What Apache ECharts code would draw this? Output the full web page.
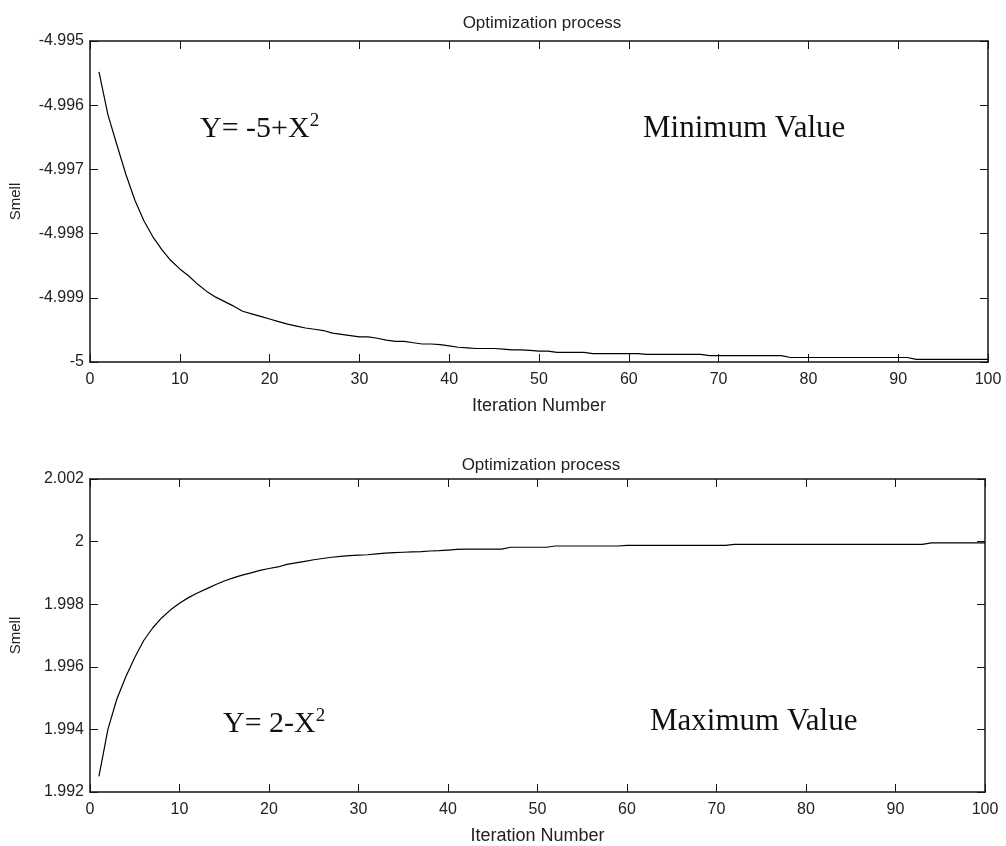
<!DOCTYPE html>
<html>
<head>
<meta charset="utf-8">
<script src="https://cdn.jsdelivr.net/npm/echarts@6/dist/echarts.min.js"></script>
<style>
  html, body { margin: 0; padding: 0; background: #fff; }
  #chart { width: 1006px; height: 846px; }
</style>
</head>
<body>
<div id="chart"></div>
<script>
// ---- data ----
const minSmell = [
  -4.99548, -4.99615, -4.99662, -4.99708, -4.99748, -4.99780, -4.99805, -4.99825, -4.99842, -4.99855,
  -4.99866, -4.99879, -4.99890, -4.99899, -4.99906, -4.99913, -4.99921, -4.99925, -4.99929, -4.99933,
  -4.99937, -4.99941, -4.99944, -4.99947, -4.99949, -4.99951, -4.99955, -4.99957, -4.99959, -4.99961,
  -4.99961, -4.99963, -4.99966, -4.99968, -4.99968, -4.99970, -4.99972, -4.99972, -4.99973, -4.99975,
  -4.99977, -4.99978, -4.99979, -4.99979, -4.99979, -4.99980, -4.99981, -4.99981, -4.99982, -4.99983,
  -4.99983, -4.99985, -4.99985, -4.99985, -4.99985, -4.99987, -4.99987, -4.99987, -4.99987, -4.99987,
  -4.99987, -4.99988, -4.99988, -4.99988, -4.99988, -4.99988, -4.99988, -4.99988, -4.99990, -4.99990,
  -4.99990, -4.99990, -4.99990, -4.99990, -4.99990, -4.99990, -4.99990, -4.99993, -4.99993, -4.99993,
  -4.99993, -4.99993, -4.99993, -4.99993, -4.99993, -4.99993, -4.99993, -4.99993, -4.99993, -4.99993,
  -4.99993, -4.99996, -4.99996, -4.99996, -4.99996, -4.99996, -4.99996, -4.99996, -4.99996, -4.99996
];
const maxSmell = [
  1.99250, 1.99400, 1.99497, 1.99568, 1.99630, 1.99684, 1.99724, 1.99756, 1.99782, 1.99803,
  1.99821, 1.99836, 1.99849, 1.99862, 1.99874, 1.99884, 1.99893, 1.99900, 1.99908, 1.99914,
  1.99919, 1.99927, 1.99932, 1.99937, 1.99942, 1.99946, 1.99950, 1.99953, 1.99955, 1.99957,
  1.99958, 1.99961, 1.99963, 1.99965, 1.99966, 1.99967, 1.99968, 1.99970, 1.99971, 1.99973,
  1.99975, 1.99976, 1.99976, 1.99976, 1.99976, 1.99976, 1.99982, 1.99982, 1.99982, 1.99982,
  1.99982, 1.99986, 1.99986, 1.99986, 1.99986, 1.99986, 1.99986, 1.99986, 1.99986, 1.99988,
  1.99988, 1.99988, 1.99988, 1.99988, 1.99988, 1.99988, 1.99988, 1.99988, 1.99988, 1.99988,
  1.99988, 1.99991, 1.99991, 1.99991, 1.99991, 1.99991, 1.99991, 1.99991, 1.99991, 1.99991,
  1.99991, 1.99991, 1.99991, 1.99991, 1.99991, 1.99991, 1.99991, 1.99991, 1.99991, 1.99991,
  1.99991, 1.99991, 1.99991, 1.99996, 1.99996, 1.99996, 1.99996, 1.99996, 1.99996, 1.99996
];
const xTicks = { min: 0, max: 100, interval: 10 };
const topY = { min: -5, max: -4.995, interval: 0.001 };
const botY = { min: 1.992, max: 2.002, interval: 0.002 };
const titleText = 'Optimization process';
const xName = 'Iteration Number';
const yName = 'Smell';

// ---- build ----
const toPairs = arr => arr.map((v, i) => [i + 1, v]);
const AX = '#141414';
const TXT = '#222';
const sans = 'Liberation Sans, Arial, Helvetica, sans-serif';
const serif = 'Liberation Serif, Times New Roman, serif';
const fmtY = v => String(parseFloat(Number(v).toFixed(3)));

function xAxisMain(gridIndex) {
  return {
    type: 'value', gridIndex, position: 'bottom',
    min: xTicks.min, max: xTicks.max, interval: xTicks.interval,
    name: xName, nameLocation: 'middle', nameGap: 35,
    nameTextStyle: { fontFamily: sans, fontSize: 18, color: TXT },
    axisLine: { show: true, onZero: false, lineStyle: { color: AX, width: 1.5 } },
    axisTick: { show: true, inside: true, length: 8, lineStyle: { color: AX, width: 1 } },
    axisLabel: { show: true, fontFamily: sans, fontSize: 16, color: TXT, margin: 10 },
    splitLine: { show: false }
  };
}
function xAxisTop(gridIndex) {
  return {
    type: 'value', gridIndex, position: 'top',
    min: xTicks.min, max: xTicks.max, interval: xTicks.interval,
    axisLine: { show: true, onZero: false, lineStyle: { color: AX, width: 1.5 } },
    axisTick: { show: true, inside: true, length: 8, lineStyle: { color: AX, width: 1 } },
    axisLabel: { show: false }, splitLine: { show: false }
  };
}
function yAxisMain(gridIndex, r) {
  return {
    type: 'value', gridIndex, position: 'left',
    min: r.min, max: r.max, interval: r.interval,
    name: yName, nameLocation: 'middle', nameGap: 67, nameRotate: 90,
    nameTextStyle: { fontFamily: sans, fontSize: 15, color: TXT },
    axisLine: { show: true, onZero: false, lineStyle: { color: AX, width: 1.5 } },
    axisTick: { show: true, inside: true, length: 8, lineStyle: { color: AX, width: 1 } },
    axisLabel: { show: true, fontFamily: sans, fontSize: 16, color: TXT, margin: 6, formatter: fmtY },
    splitLine: { show: false }
  };
}
function yAxisRight(gridIndex, r) {
  return {
    type: 'value', gridIndex, position: 'right',
    min: r.min, max: r.max, interval: r.interval,
    axisLine: { show: true, onZero: false, lineStyle: { color: AX, width: 1.5 } },
    axisTick: { show: true, inside: true, length: 8, lineStyle: { color: AX, width: 1 } },
    axisLabel: { show: false }, splitLine: { show: false }
  };
}

const chart = echarts.init(document.getElementById('chart'), null, { renderer: 'canvas' });
chart.setOption({
  backgroundColor: '#ffffff',
  animation: false,
  title: [
    { text: titleText, left: 537, top: 10, textAlign: 'center',
      textStyle: { fontFamily: sans, fontSize: 17, fontWeight: 'normal', color: TXT } },
    { text: titleText, left: 536, top: 452, textAlign: 'center',
      textStyle: { fontFamily: sans, fontSize: 17, fontWeight: 'normal', color: TXT } }
  ],
  grid: [
    { left: 90, right: 18, top: 41, height: 321, containLabel: false },
    { left: 88, right: 21, top: 479, height: 313, containLabel: false }
  ],
  xAxis: [xAxisMain(0), xAxisTop(0), xAxisMain(1), xAxisTop(1)],
  yAxis: [yAxisMain(0, topY), yAxisRight(0, topY), yAxisMain(1, botY), yAxisRight(1, botY)],
  series: [
    { type: 'line', xAxisIndex: 0, yAxisIndex: 0, data: toPairs(minSmell),
      showSymbol: false, symbol: 'none', lineStyle: { color: '#000', width: 1.2 } },
    { type: 'line', xAxisIndex: 2, yAxisIndex: 2, data: toPairs(maxSmell),
      showSymbol: false, symbol: 'none', lineStyle: { color: '#000', width: 1.2 } }
  ],
  graphic: [
    { type: 'text', left: 200, top: 110,
      style: { text: '{m|Y= -5+X}{s|2}', fill: '#111',
        rich: { m: { fontFamily: serif, fontSize: 30, lineHeight: 34, verticalAlign: 'bottom', fill: '#111' },
                s: { fontFamily: serif, fontSize: 19, lineHeight: 34, verticalAlign: 'top', padding: [2, 0, 0, 0], fill: '#111' } } } },
    { type: 'text', left: 643, top: 113,
      style: { text: 'Minimum Value', fill: '#111', fontFamily: serif, fontSize: 31 } },
    { type: 'text', left: 223, top: 705,
      style: { text: '{m|Y= 2-X}{s|2}', fill: '#111',
        rich: { m: { fontFamily: serif, fontSize: 30, lineHeight: 34, verticalAlign: 'bottom', fill: '#111' },
                s: { fontFamily: serif, fontSize: 19, lineHeight: 34, verticalAlign: 'top', padding: [2, 0, 0, 0], fill: '#111' } } } },
    { type: 'text', left: 650, top: 706,
      style: { text: 'Maximum Value', fill: '#111', fontFamily: serif, fontSize: 31 } }
  ]
});
</script>
</body>
</html>
